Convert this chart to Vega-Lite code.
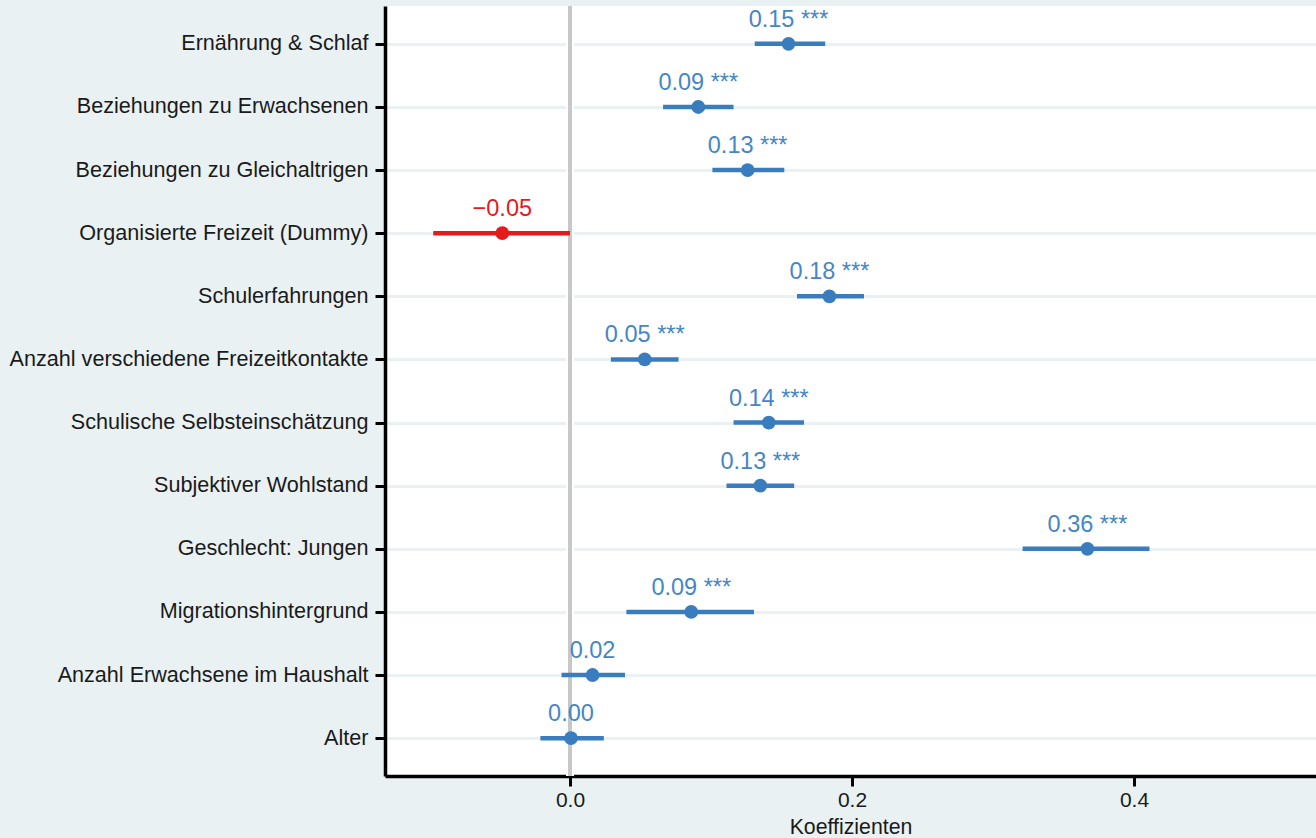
{
  "$schema": "https://vega.github.io/schema/vega-lite/v6.json",
  "width": 931,
  "height": 770,
  "autosize": {"type": "none"},
  "padding": {"left": 385, "top": 6, "right": 0, "bottom": 62},
  "background": "#e9f1f3",
  "view": {"fill": "white", "stroke": null},
  "config": {
    "font": "Liberation Sans",
    "axis": {"labelFont": "Liberation Sans", "titleFont": "Liberation Sans"}
  },
  "data": {
    "values": [
      {"var": "Ernährung & Schlaf", "coef": 0.155, "lo": 0.131, "hi": 0.181, "label": "0.15 ***"},
      {"var": "Beziehungen zu Erwachsenen", "coef": 0.091, "lo": 0.066, "hi": 0.116, "label": "0.09 ***"},
      {"var": "Beziehungen zu Gleichaltrigen", "coef": 0.126, "lo": 0.101, "hi": 0.152, "label": "0.13 ***"},
      {"var": "Organisierte Freizeit (Dummy)", "coef": -0.048, "lo": -0.097, "hi": 0.0, "label": "−0.05"},
      {"var": "Schulerfahrungen", "coef": 0.184, "lo": 0.161, "hi": 0.2085, "label": "0.18 ***"},
      {"var": "Anzahl verschiedene Freizeitkontakte", "coef": 0.053, "lo": 0.029, "hi": 0.077, "label": "0.05 ***"},
      {"var": "Schulische Selbsteinschätzung", "coef": 0.141, "lo": 0.116, "hi": 0.166, "label": "0.14 ***"},
      {"var": "Subjektiver Wohlstand", "coef": 0.135, "lo": 0.111, "hi": 0.159, "label": "0.13 ***"},
      {"var": "Geschlecht: Jungen", "coef": 0.367, "lo": 0.321, "hi": 0.411, "label": "0.36 ***"},
      {"var": "Migrationshintergrund", "coef": 0.086, "lo": 0.040, "hi": 0.1305, "label": "0.09 ***"},
      {"var": "Anzahl Erwachsene im Haushalt", "coef": 0.016, "lo": -0.006, "hi": 0.039, "label": "0.02"},
      {"var": "Alter", "coef": 0.0007, "lo": -0.021, "hi": 0.024, "label": "0.00"}
    ]
  },
  "encoding": {
    "y": {
      "field": "var",
      "type": "nominal",
      "sort": null,
      "scale": {"type": "point", "padding": 0.6},
      "axis": {
        "title": null,
        "labelFontSize": 21.6,
        "labelLimit": 400,
        "labelColor": "#1a1a1a",
        "labelPadding": 7,
        "tickSize": 10,
        "tickWidth": 3,
        "tickColor": "black",
        "domainColor": "black",
        "domainWidth": 3.5,
        "grid": true,
        "gridColor": "#e9f1f3",
        "gridWidth": 3
      }
    }
  },
  "layer": [
    {
      "mark": {"type": "rule", "color": "white", "strokeWidth": 7},
      "encoding": {"x": {"datum": 0}, "y": {"value": 0}, "y2": {"value": 770}}
    },
    {
      "mark": {"type": "rule", "color": "#c8c8c8", "strokeWidth": 3.5},
      "encoding": {"x": {"datum": 0}, "y": {"value": 0}, "y2": {"value": 770}}
    },
    {
      "mark": {"type": "rule", "strokeWidth": 4.5},
      "encoding": {
        "x": {
          "field": "lo",
          "type": "quantitative",
          "scale": {"domain": [-0.1312, 0.5291], "nice": false, "zero": false},
          "axis": {
            "values": [0, 0.2, 0.4],
            "format": ".1f",
            "title": "Koeffizienten",
            "titleFontSize": 21.3,
            "titleFontWeight": "normal",
            "titleColor": "#1a1a1a",
            "titlePadding": 6,
            "labelFontSize": 21,
            "labelColor": "#1a1a1a",
            "labelPadding": 3,
            "tickSize": 10,
            "tickWidth": 3,
            "tickColor": "black",
            "domainColor": "black",
            "domainWidth": 3.5,
            "grid": false
          }
        },
        "x2": {"field": "hi"},
        "color": {"condition": {"test": "datum.coef < 0", "value": "#e41a1c"}, "value": "#3a7dbf"}
      }
    },
    {
      "mark": {"type": "circle", "size": 190, "opacity": 1},
      "encoding": {
        "x": {"field": "coef", "type": "quantitative"},
        "color": {"condition": {"test": "datum.coef < 0", "value": "#e41a1c"}, "value": "#3a7dbf"}
      }
    },
    {
      "mark": {"type": "text", "fontSize": 23.5, "align": "center", "baseline": "alphabetic", "dy": -17},
      "encoding": {
        "x": {"field": "coef", "type": "quantitative"},
        "text": {"field": "label"},
        "color": {"condition": {"test": "datum.coef < 0", "value": "#e41a1c"}, "value": "#4686c4"}
      }
    }
  ]
}
